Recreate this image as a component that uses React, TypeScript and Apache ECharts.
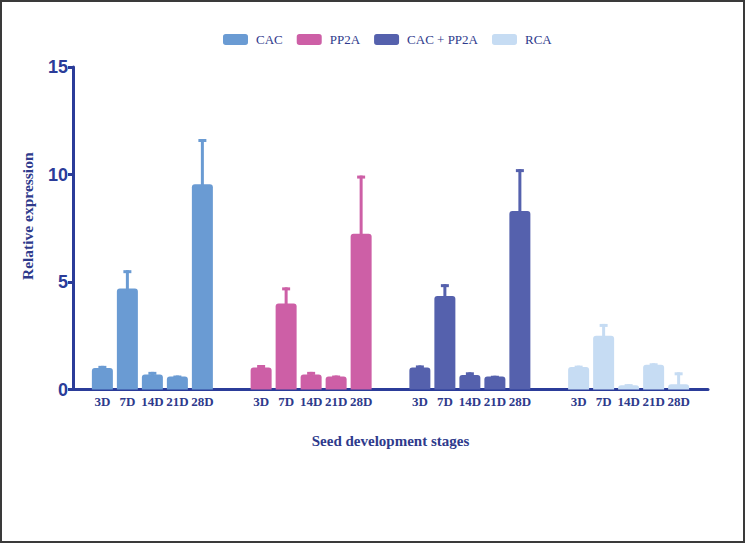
import React, { useEffect, useRef } from "react";
import * as echarts from "echarts";

const categories = ["CAC", "PP2A", "CAC + PP2A", "RCA"];
const stages = ["3D", "7D", "14D", "21D", "28D"];
const cacMeans = [1.0, 4.7, 0.7, 0.6, 9.55];
const cacErrors = [0.1, 0.85, 0.12, 0.05, 2.1];
const pp2aMeans = [1.02, 4.0, 0.7, 0.6, 7.25];
const pp2aErrors = [0.12, 0.75, 0.12, 0.05, 2.7];
const comboMeans = [1.02, 4.35, 0.68, 0.6, 8.3];
const comboErrors = [0.1, 0.55, 0.12, 0.04, 1.95];
const rcaMeans = [1.05, 2.5, 0.2, 1.15, 0.25];
const rcaErrors = [0.06, 0.55, 0.05, 0.07, 0.55];
const yTicks = [0, 5, 10, 15];

const colors = ["#6a9bd3", "#cd5fa6", "#5561ad", "#c6dcf3"];
const AXIS = "#2b3c99";
const TEXT = "#2e3a8c";
const BAR_W = 21;
const BAR_SPACE = 25;

export default function App() {
  const ref = useRef<HTMLDivElement>(null);
  useEffect(() => {
    document.body.style.margin = "0";
    const chart = echarts.init(ref.current!, null, { renderer: "svg" });
    const means = [cacMeans, pp2aMeans, comboMeans, rcaMeans];
    const errs = [cacErrors, pp2aErrors, comboErrors, rcaErrors];

    const barSeries = stages.map((st, d) => ({
      type: "bar",
      name: st,
      xAxisIndex: 0,
      yAxisIndex: 0,
      barWidth: BAR_W,
      barGap: "19.05%",
      data: categories.map((c, ci) => ({
        value: means[ci][d],
        itemStyle: { color: colors[ci], borderRadius: [3, 3, 0, 0] },
      })),
      label: {
        show: true,
        position: "bottom",
        distance: 5,
        formatter: st,
        color: TEXT,
        fontFamily: "Liberation Serif",
        fontWeight: "bold",
        fontSize: 13,
      },
      z: 2,
    }));

    const errData: number[][] = [];
    categories.forEach((c, ci) => {
      stages.forEach((s, d) => {
        errData.push([ci, means[ci][d], errs[ci][d], d]);
      });
    });

    const errSeries = {
      type: "custom",
      xAxisIndex: 0,
      yAxisIndex: 0,
      data: errData,
      encode: { x: 0, y: 1 },
      z: 3,
      renderItem: (params: any, api: any) => {
        const ci = api.value(0);
        const mean = api.value(1);
        const err = api.value(2);
        const d = api.value(3);
        const base = api.coord([ci, mean]);
        const top = api.coord([ci, mean + err]);
        const x = base[0] + (d - 2) * BAR_SPACE;
        const col = colors[ci];
        return {
          type: "group",
          children: [
            {
              type: "line",
              shape: { x1: x, y1: base[1] + 2, x2: x, y2: top[1] },
              style: { stroke: col, lineWidth: 3 },
            },
            {
              type: "line",
              shape: { x1: x - 4, y1: top[1] + 1.5, x2: x + 4, y2: top[1] + 1.5 },
              style: { stroke: col, lineWidth: 3 },
            },
          ],
        };
      },
    };

    const legendSeries = categories.map((c, ci) => ({
      type: "bar",
      name: c,
      xAxisIndex: 1,
      yAxisIndex: 1,
      data: [],
      itemStyle: { color: colors[ci] },
    }));

    chart.setOption({
      animation: false,
      backgroundColor: "#ffffff",
      legend: {
        data: categories,
        left: 218,
        top: 28,
        icon: "roundRect",
        itemWidth: 25,
        itemHeight: 11,
        itemGap: 14,
        textStyle: {
          color: TEXT,
          fontFamily: "Liberation Serif",
          fontSize: 13,
          padding: [0, 0, 0, 3],
        },
      },
      grid: { left: 73, right: 38, top: 67, bottom: 154.5, containLabel: false },
      xAxis: [
        {
          type: "category",
          data: categories,
          boundaryGap: true,
          axisLine: { lineStyle: { color: AXIS, width: 3 } },
          axisTick: { alignWithLabel: true, length: 4, lineStyle: { color: AXIS, width: 3 } },
          axisLabel: { show: false },
          name: "Seed development stages",
          nameLocation: "middle",
          nameGap: 44,
          nameTextStyle: {
            color: TEXT,
            fontFamily: "Liberation Serif",
            fontWeight: "bold",
            fontSize: 15,
          },
        },
        { type: "category", show: false, data: categories, gridIndex: 0 },
      ],
      yAxis: [
        {
          type: "value",
          min: 0,
          max: 15,
          interval: 5,
          axisLine: { show: true, lineStyle: { color: AXIS, width: 3 } },
          axisTick: { show: true, length: 5, lineStyle: { color: AXIS, width: 3 } },
          splitLine: { show: false },
          axisLabel: {
            color: AXIS,
            fontFamily: "Liberation Sans",
            fontWeight: "bold",
            fontSize: 18,
            margin: 5,
            formatter: (v: number) => (yTicks.includes(v) ? String(v) : ""),
          },
          name: "Relative expression",
          nameLocation: "middle",
          nameGap: 38,
          nameTextStyle: {
            color: TEXT,
            fontFamily: "Liberation Serif",
            fontWeight: "bold",
            fontSize: 15.5,
            padding: [0, 0, 0, 24],
          },
        },
        { type: "value", show: false, min: 0, max: 15 },
      ],
      graphic: [
        {
          type: "rect",
          shape: { x: 1, y: 1, width: 743, height: 541 },
          style: { fill: "none", stroke: "#3a3a3a", lineWidth: 2 },
          silent: true,
          z: 100,
        },
      ],
      series: [...barSeries, errSeries, ...legendSeries],
    });
    return () => chart.dispose();
  }, []);
  return <div ref={ref} style={{ width: 746, height: 544 }} />;
}
